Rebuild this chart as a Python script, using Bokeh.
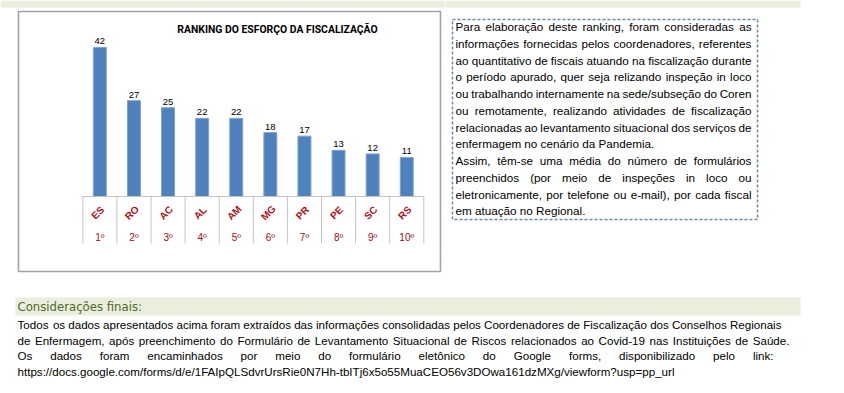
import math
from bokeh.plotting import figure
from bokeh.layouts import column, row
from bokeh.models import Range1d, ColumnDataSource
from bokeh.embed import file_html
from bokeh.resources import INLINE
from bokeh.core.properties import value

# ---------------- data ----------------
states = ["ES", "RO", "AC", "AL", "AM", "MG", "PR", "PE", "SC", "RS"]
fiscais = [42, 27, 25, 22, 22, 18, 17, 13, 12, 11]
ranks = ["1º", "2º", "3º", "4º", "5º", "6º", "7º", "8º", "9º", "10º"]
chart_title = "RANKING DO ESFORÇO DA FISCALIZAÇÃO"

box_lines = [
    "Para elaboração deste ranking, foram consideradas as",
    "informações fornecidas pelos coordenadores, referentes",
    "ao quantitativo de fiscais atuando na fiscalização durante",
    "o período apurado, quer seja relizando inspeção in loco",
    "ou trabalhando internamente na sede/subseção do Coren",
    "ou remotamente, realizando atividades de fiscalização",
    "relacionadas ao levantamento situacional dos serviços de",
    "enfermagem no cenário da Pandemia.",
    "Assim, têm-se uma média do número de formulários",
    "preenchidos (por meio de inspeções in loco ou",
    "eletronicamente, por telefone ou e-mail), por cada fiscal",
    "em atuação no Regional.",
]
box_justified = [True, True, True, True, True, True, True, False, True, True, True, False]
final_heading = "Considerações finais:"
final_lines = [
    "Todos os dados apresentados acima foram extraídos das informações consolidadas pelos Coordenadores de Fiscalização dos Conselhos Regionais",
    "de Enfermagem, após preenchimento do Formulário de Levantamento Situacional de Riscos relacionados ao Covid-19 nas Instituições de Saúde.",
    "Os dados foram encaminhados por meio do formulário eletônico do Google forms, disponibilizado pelo link:",
    "https://docs.google.com/forms/d/e/1FAIpQLSdvrUrsRie0N7Hh-tbITj6x5o55MuaCEO56v3DOwa161dzMXg/viewform?usp=pp_url",
]
final_right = [781, 789, 773, None]

FONT = "Liberation Sans"
GREEN_BAND = "#eaeedd"

# Arial / Liberation Sans advance widths (per 1000 em) for justification
_W = {}
for ch, w in [(" ", 278), ("a", 556), ("b", 556), ("c", 500), ("d", 556), ("e", 556),
              ("f", 278), ("g", 556), ("h", 556), ("i", 222), ("j", 222), ("k", 500),
              ("l", 222), ("m", 833), ("n", 556), ("o", 556), ("p", 556), ("q", 556),
              ("r", 333), ("s", 500), ("t", 278), ("u", 556), ("v", 500), ("w", 722),
              ("x", 500), ("y", 500), ("z", 500), ("A", 667), ("B", 667), ("C", 722),
              ("D", 722), ("E", 667), ("F", 611), ("G", 778), ("H", 722), ("I", 278),
              ("J", 500), ("K", 667), ("L", 556), ("M", 833), ("N", 722), ("O", 778),
              ("P", 667), ("Q", 778), ("R", 722), ("S", 667), ("T", 611), ("U", 722),
              ("V", 667), ("W", 944), ("X", 667), ("Y", 667), ("Z", 611), (",", 278),
              (".", 278), ("(", 333), (")", 333), ("-", 333), ("/", 278), (":", 278),
              ("?", 556), ("_", 556), ("=", 584), ("ç", 500), ("ã", 556), ("õ", 556),
              ("é", 556), ("ê", 556), ("á", 556), ("ú", 556), ("í", 278), ("ô", 556)]:
    _W[ch] = w
for d in "0123456789":
    _W[d] = 556


def text_width(s, size):
    return sum(_W.get(c, 556) for c in s) * size / 1000.0


def justify(line, x_left, x_right, size):
    words = line.split(" ")
    widths = [text_width(w, size) for w in words]
    gap = (x_right - x_left - sum(widths)) / max(len(words) - 1, 1)
    xs, x = [], x_left
    for w in widths:
        xs.append(x)
        x += w + gap
    return words, xs


n = len(states)
xc = [i + 0.5 for i in range(n)]

# ---------------- bar chart (left panel, page px 0..445 x 0..275) ----------------
COL0, COLW, BASE, UNIT = 82.3, 34.1, 196.0, 3.55
chart = figure(width=445, height=275,
               x_range=Range1d((0 - COL0) / COLW, (445 - COL0) / COLW),
               y_range=Range1d(-(275 - BASE) / UNIT, BASE / UNIT),
               x_axis_location=None, y_axis_location=None,
               output_backend="svg", toolbar_location=None, min_border=0)
chart.extra_x_ranges = {"px": Range1d(0, 445)}
chart.extra_y_ranges = {"px": Range1d(275, 0)}
chart.grid.visible = False
chart.outline_line_color = None

chart.quad(left=[0], right=[445], top=[0], bottom=[7], fill_color=GREEN_BAND,
           line_color=None, x_range_name="px", y_range_name="px")
chart.quad(left=[18], right=[440], top=[11], bottom=[271], fill_color="white",
           line_color="#a2a2a2", line_width=1.6, x_range_name="px", y_range_name="px")

src = ColumnDataSource(dict(x=xc, v=fiscais, lab=[str(v) for v in fiscais],
                            st=states, rk=ranks))
chart.vbar(x="x", top="v", bottom=0, width=0.38, source=src,
           fill_color="#4f81bd", line_color="#7ea3d3", line_width=1)
chart.text(x="x", y="v", text="lab", source=src, text_align="center",
           text_baseline="bottom", y_offset=-3, text_color="black",
           text_font=value(FONT), text_font_size="9.5px")

bounds = list(range(n + 1))
chart.segment(x0=bounds, y0=[0] * (n + 1), x1=bounds, y1=[-13.24] * (n + 1),
              line_color="#c4c4c4", line_width=1)
chart.segment(x0=[0], y0=[0], x1=[n], y1=[0], line_color="#c4c4c4", line_width=1)

chart.text(x="x", y=-4.6, text="st", source=src, angle=math.pi / 4,
           text_align="center", text_baseline="middle", text_color="#b01020",
           text_font=value(FONT), text_font_size="10px", text_font_style="bold",
           x_offset=-2)
chart.text(x="x", y=-11.5, text="rk", source=src, text_align="center",
           text_baseline="middle", text_color="#a00c18",
           text_font=value(FONT), text_font_size="10px")

chart.text(x=[277], y=[28.5], text=[chart_title], text_align="center",
           text_baseline="middle", text_color="black",
           text_font=value("Roboto"), text_font_size="10.4px",
           text_font_style="bold", x_range_name="px", y_range_name="px")

# ---------------- right text box (page px 445..844 x 0..275) ----------------
tf = figure(width=399, height=275,
            x_range=Range1d(445, 844), y_range=Range1d(275, 0),
            x_axis_location=None, y_axis_location=None,
            output_backend="svg", toolbar_location=None, min_border=0)
tf.grid.visible = False
tf.outline_line_color = None
tf.quad(left=[445], right=[800], top=[0], bottom=[7], fill_color=GREEN_BAND, line_color=None)
tf.quad(left=[452], right=[757], top=[19], bottom=[219], fill_color=None,
        line_color="#6f87ab", line_dash="3 2", line_width=1.5)

BOX_FS = 11.7
wx, wy, wt = [], [], []
for i, (ln, jus) in enumerate(zip(box_lines, box_justified)):
    y = 26 + 16.75 * i
    if jus:
        words, xs = justify(ln, 455, 751, BOX_FS)
        wt += words
        wx += xs
        wy += [y] * len(words)
    else:
        wt.append(ln)
        wx.append(455)
        wy.append(y)
tf.text(x=wx, y=wy, text=wt, text_align="left", text_baseline="middle",
        text_color="black", text_font=value(FONT), text_font_size=f"{BOX_FS}px")

# ---------------- bottom section (page px 0..844 x 275..393) ----------------
bf = figure(width=844, height=118,
            x_range=Range1d(0, 844), y_range=Range1d(393, 275),
            x_axis_location=None, y_axis_location=None,
            output_backend="svg", toolbar_location=None, min_border=0)
bf.grid.visible = False
bf.outline_line_color = None
bf.quad(left=[15], right=[800], top=[297], bottom=[315],
        fill_color=GREEN_BAND, line_color=None)
bf.text(x=[17], y=[306.5], text=[final_heading], text_align="left",
        text_baseline="middle", text_color="#4f6a28",
        text_font=value("DejaVu Sans"), text_font_size="11.7px")

FIN_FS = 11.6
fx, fy, ft = [], [], []
for i, (ln, right) in enumerate(zip(final_lines, final_right)):
    y = 324 + 15.5 * i
    if right is not None:
        words, xs = justify(ln, 17, right, FIN_FS)
        ft += words
        fx += xs
        fy += [y] * len(words)
    else:
        ft.append(ln)
        fx.append(17)
        fy.append(y)
bf.text(x=fx, y=fy, text=ft, text_align="left", text_baseline="middle",
        text_color="black", text_font=value(FONT), text_font_size=f"{FIN_FS}px")

layout = column(row(chart, tf), bf)
open("out.html", "w").write(file_html(layout, INLINE))
